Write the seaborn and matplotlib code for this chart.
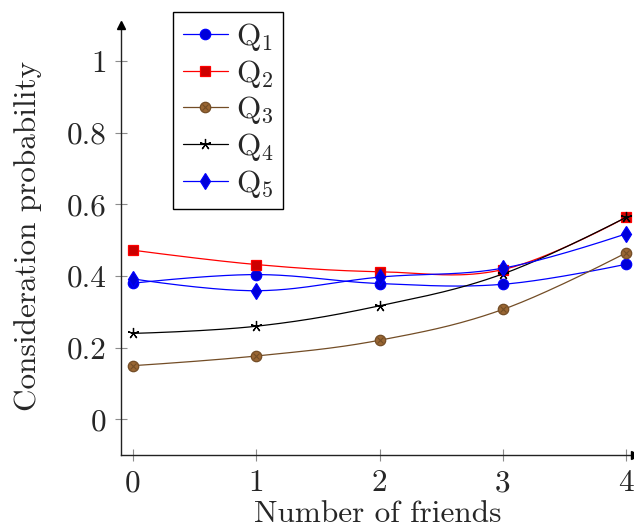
import numpy as np
import pandas as pd
import matplotlib
matplotlib.use("Agg")
import matplotlib.pyplot as plt
import seaborn as sns
from matplotlib.lines import Line2D

# ---------------- data ----------------
friends = [0, 1, 2, 3, 4]
q1 = [0.380, 0.404, 0.379, 0.377, 0.433]
q2 = [0.472, 0.432, 0.412, 0.418, 0.564]
q3 = [0.150, 0.177, 0.221, 0.307, 0.465]
q4 = [0.240, 0.260, 0.317, 0.406, 0.564]
q5 = [0.392, 0.359, 0.397, 0.422, 0.518]
series_names = ["Q$_1$", "Q$_2$", "Q$_3$", "Q$_4$", "Q$_5$"]
xtick_values = [0, 1, 2, 3, 4]
xtick_labels = ["0", "1", "2", "3", "4"]
ytick_values = [0, 0.2, 0.4, 0.6, 0.8, 1.0]
ytick_labels = ["0", "0.2", "0.4", "0.6", "0.8", "1"]
x_label = "Number of friends"
y_label = "Consideration probability"

# ---------------- style ----------------
sns.set_style("white")
plt.rcParams.update({
    "font.family": ["cmr10", "DejaVu Serif"],
    "mathtext.fontset": "cm",
    "axes.formatter.use_mathtext": True,
    "font.size": 22.5,
})

brown_line = (0.45, 0.30, 0.15)
brown_fill = (0.60, 0.40, 0.20)
styles = [
    dict(color=(0, 0, 1), marker="o", ms=7.5, face=(0, 0, 0.85), edge=(0, 0, 1)),
    dict(color=(1, 0, 0), marker="s", ms=7.0, face=(0.8, 0, 0), edge=(1, 0, 0)),
    dict(color=brown_line, marker="o", ms=7.5, face=brown_fill, edge=brown_line),
    dict(color=(0, 0, 0), marker=(5, 2, 0), ms=8.0, face="none", edge=(0, 0, 0)),
    dict(color=(0, 0, 1), marker="d", ms=8.0, face=(0, 0, 0.85), edge=(0, 0, 1)),
]


def smooth(xs, ys, tension=0.55, n=40):
    """pgf-like smooth curve through the points (drawing only)."""
    P = np.column_stack([xs, ys]).astype(float)
    f = tension / 3.0
    out = []
    m = len(P)
    t = np.linspace(0, 1, n)[:, None]
    for i in range(m - 1):
        p0, p3 = P[i], P[i + 1]
        c1 = p0 + f * (P[i + 1] - P[i - 1]) if i > 0 else p0
        c2 = p3 - f * (P[i + 2] - P[i]) if i + 2 < m else p3
        seg = ((1 - t) ** 3) * p0 + 3 * ((1 - t) ** 2) * t * c1 + 3 * (1 - t) * t ** 2 * c2 + t ** 3 * p3
        out.append(seg if i == 0 else seg[1:])
    out = np.vstack(out)
    return out[:, 0], out[:, 1]


fig = plt.figure(figsize=(6.34, 5.29), dpi=100)
ax = fig.add_axes([0.1904, 0.1393, 0.8112, 0.8134])

all_series = [q1, q2, q3, q4, q5]
handles = []
for k, (name, vals, st) in enumerate(zip(series_names, all_series, styles)):
    sx, sy = smooth(friends, vals)
    curve = pd.DataFrame({"x": sx, "y": sy})
    sns.lineplot(data=curve, x="x", y="y", ax=ax, sort=False, estimator=None,
                 color=st["color"], lw=0.9, zorder=2 + 2 * k)
    pts = pd.DataFrame({"x": friends, "y": vals})
    ax.plot(pts["x"], pts["y"], linestyle="none", marker=st["marker"], ms=st["ms"],
            mfc=st["face"], mec=st["edge"], mew=0.9, zorder=3 + 2 * k, clip_on=False)
    h = Line2D([], [], color=st["color"], lw=0.9, marker=st["marker"], ms=st["ms"],
               mfc=st["face"], mec=st["edge"], mew=0.9)
    if k == 2:
        ax.plot(pts["x"], pts["y"], linestyle="none", marker="x", ms=5.0,
                mec=brown_line, mew=0.8, zorder=3 + 2 * k, clip_on=False)
        hx = Line2D([], [], linestyle="none", marker="x", ms=5.0, mec=brown_line, mew=0.8)
        handles.append((h, hx))
    else:
        handles.append(h)

ax.set_xlim(-0.1, 4.07)
ax.set_ylim(-0.1, 1.1)
ax.set_xticks(xtick_values)
ax.set_xticklabels(xtick_labels)
ax.set_yticks(ytick_values)
ax.set_yticklabels(ytick_labels)
ax.tick_params(bottom=True, left=True, direction="inout", length=8.5, width=0.8,
               color="#8c8c8c", labelsize=22.5, pad=6)
ax.set_xlabel("")
ax.set_ylabel("")

for s in ["top", "right"]:
    ax.spines[s].set_visible(False)
for s in ["left", "bottom"]:
    ax.spines[s].set_color("#222222")
    ax.spines[s].set_linewidth(1.0)

# axis arrows
ax.plot(0, 1, marker="^", ms=6, color="black", transform=ax.transAxes, clip_on=False, zorder=20)
ax.plot(1, 0, marker=">", ms=6, color="black", transform=ax.transAxes, clip_on=False, zorder=20)

fig.text(378 / 634, 1.5 / 529, x_label, ha="center", va="bottom", fontsize=22.5)
fig.text(28 / 634, 1 - 236 / 529, y_label, ha="center", va="center", rotation=90, fontsize=22.5)

leg = ax.legend(handles, series_names, loc="upper left",
                bbox_to_anchor=(0.102, 1.031), borderaxespad=0, frameon=True,
                fancybox=False, framealpha=1, edgecolor="black", borderpad=0.3,
                labelspacing=0.15, handlelength=1.45, handletextpad=0.25, fontsize=22.5)
leg.get_frame().set_linewidth(1.0)
leg.set_zorder(30)

fig.savefig("out.png", dpi=100)
